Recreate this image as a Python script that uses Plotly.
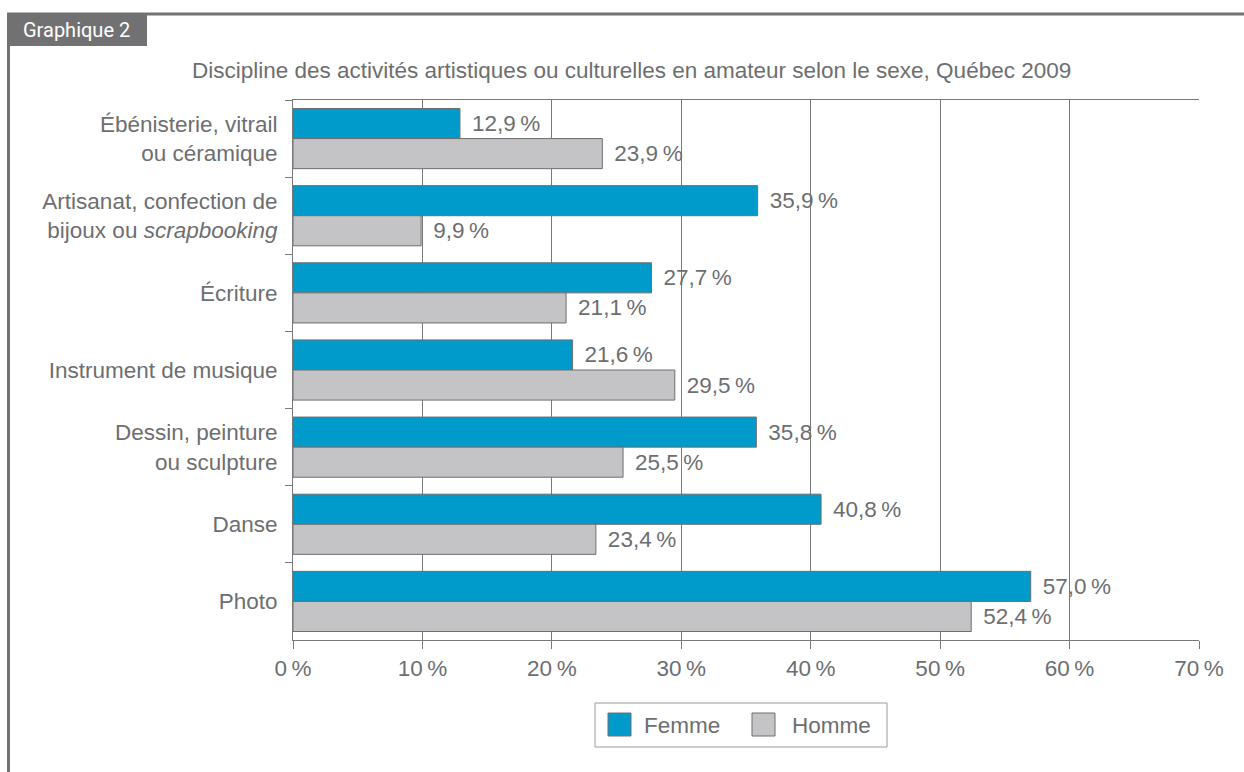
import plotly.graph_objects as go

categories = [
    "Ébénisterie, vitrail<br>ou céramique",
    "Artisanat, confection de<br>bijoux ou <i>scrapbooking</i>",
    "Écriture",
    "Instrument de musique",
    "Dessin, peinture<br>ou sculpture",
    "Danse",
    "Photo",
]
femme = [12.9, 35.9, 27.7, 21.6, 35.8, 40.8, 57.0]
homme = [23.9, 9.9, 21.1, 29.5, 25.5, 23.4, 52.4]
x_ticks = [0, 10, 20, 30, 40, 50, 60, 70]
x_tick_labels = ["0\u2009%", "10\u2009%", "20\u2009%", "30\u2009%", "40\u2009%", "50\u2009%", "60\u2009%", "70\u2009%"]

W, H = 1244, 772
L, R, T, B = 293, 1199, 100, 640

def px(x):
    return (x - L) / (R - L)

def py(y):
    return (B - y) / (B - T)

def fmt(v):
    return "\u2009\u2009" + f"{v:.1f}".replace(".", ",") + "\u2009%"

TEXT = "#6d6e71"
FONT = "Liberation Sans, Arial, sans-serif"
FS = 22.5

fig = go.Figure()
fig.add_trace(go.Bar(
    name="Femme", y=categories, x=femme, orientation="h",
    marker=dict(color="#009bcb", line=dict(color="#6d6e71", width=1)),
    text=[fmt(v) for v in femme], textposition="outside",
    textfont=dict(size=FS, color=TEXT, family=FONT), cliponaxis=False,
    showlegend=False,
))
fig.add_trace(go.Bar(
    name="Homme", y=categories, x=homme, orientation="h",
    marker=dict(color="#c4c4c6", line=dict(color="#6d6e71", width=1)),
    text=[fmt(v) for v in homme], textposition="outside",
    textfont=dict(size=FS, color=TEXT, family=FONT), cliponaxis=False,
    showlegend=False,
))

shapes = []
# frame
shapes.append(dict(type="line", xref="paper", yref="paper",
                   x0=px(7), x1=px(1244), y0=py(14), y1=py(14),
                   line=dict(color="#737373", width=3)))
shapes.append(dict(type="line", xref="paper", yref="paper",
                   x0=px(8.5), x1=px(8.5), y0=py(13), y1=py(772),
                   line=dict(color="#737373", width=3)))
shapes.append(dict(type="rect", xref="paper", yref="paper",
                   x0=px(7), x1=px(147), y0=py(13), y1=py(46),
                   fillcolor="#717174", line=dict(width=0)))
# legend
shapes.append(dict(type="rect", xref="paper", yref="paper",
                   x0=px(595), x1=px(887), y0=py(703), y1=py(747),
                   line=dict(color="#9a9a9c", width=1), fillcolor="white"))
shapes.append(dict(type="rect", xref="paper", yref="paper",
                   x0=px(608), x1=px(631), y0=py(713), y1=py(736),
                   line=dict(color="#6d6e71", width=1), fillcolor="#009bcb"))
shapes.append(dict(type="rect", xref="paper", yref="paper",
                   x0=px(752), x1=px(775), y0=py(713), y1=py(736),
                   line=dict(color="#6d6e71", width=1), fillcolor="#c4c4c6"))

annotations = [
    dict(text="Graphique 2", xref="paper", yref="paper", x=px(21), y=py(30),
         xanchor="left", yanchor="middle", showarrow=False,
         font=dict(size=20, color="white", family="Roboto, sans-serif")),
    dict(text="Discipline des activités artistiques ou culturelles en amateur selon le sexe, Québec 2009",
         xref="paper", yref="paper", x=px(631), y=py(71),
         xanchor="center", yanchor="middle", showarrow=False,
         font=dict(size=FS, color=TEXT, family=FONT)),
    dict(text="Femme", xref="paper", yref="paper", x=px(642), y=py(725),
         xanchor="left", yanchor="middle", showarrow=False,
         font=dict(size=FS, color=TEXT, family=FONT)),
    dict(text="Homme", xref="paper", yref="paper", x=px(790), y=py(725),
         xanchor="left", yanchor="middle", showarrow=False,
         font=dict(size=FS, color=TEXT, family=FONT)),
]

fig.update_layout(
    width=W, height=H,
    margin=dict(l=L, r=W - R, t=T, b=H - B),
    paper_bgcolor="white", plot_bgcolor="white",
    barmode="group", bargap=0.22, bargroupgap=0,
    showlegend=False,
    shapes=shapes, annotations=annotations,
    font=dict(family=FONT, color=TEXT),
)
fig.update_xaxes(
    range=[0, 70], tickvals=x_ticks, ticktext=x_tick_labels,
    showgrid=True, gridcolor="#7a7a7c", gridwidth=1,
    showline=True, linecolor="#7a7a7c", linewidth=1, mirror=True,
    ticks="outside", ticklen=8, tickcolor="#7a7a7c",
    tickfont=dict(size=FS, color=TEXT, family=FONT), zeroline=False,
)
fig.update_yaxes(
    autorange="reversed", type="category",
    showline=True, linecolor="#7a7a7c", linewidth=1,
    ticks="outside", ticklen=7, tickcolor="#7a7a7c", tickson="boundaries",
    ticklabelstandoff=10,
    tickfont=dict(size=FS, color=TEXT, family=FONT), showgrid=False,
)

fig.write_html("out.html", config={"displayModeBar": False},
               post_script="document.body.style.margin='0';")
